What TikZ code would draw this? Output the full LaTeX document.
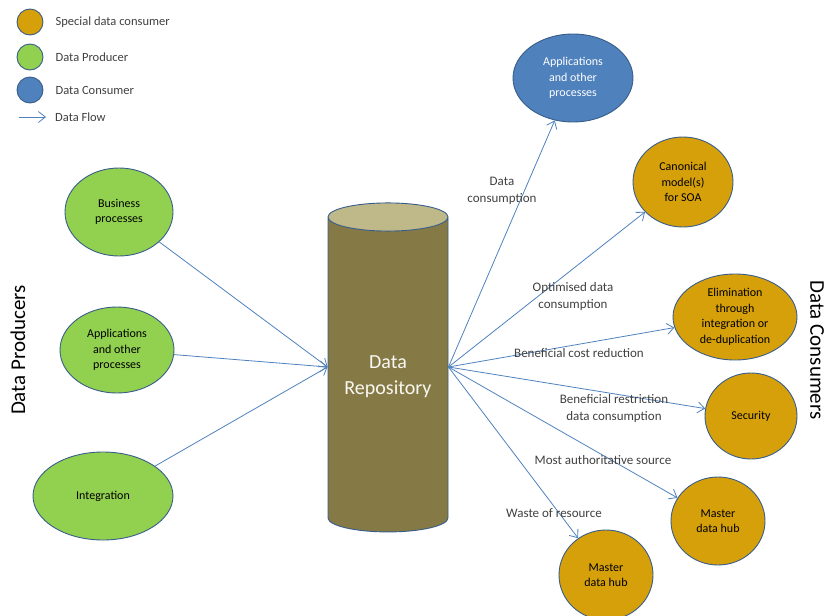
\documentclass[tikz,border=0pt]{standalone}
\usepackage{fontspec}
\setmainfont{Carlito}
\usetikzlibrary{shapes.geometric, arrows.meta, positioning}

\definecolor{rimblue}{RGB}{56,93,138}
\definecolor{flowblue}{RGB}{79,129,189}
\definecolor{prodgreen}{RGB}{146,208,80}
\definecolor{consblue}{RGB}{79,129,189}
\definecolor{specgold}{RGB}{214,160,10}
\definecolor{repobody}{RGB}{133,122,69}
\definecolor{repotop}{RGB}{191,185,138}
\definecolor{labelgrey}{RGB}{64,64,64}

\begin{document}
\begin{tikzpicture}[x=1pt, y=-1pt,
	  node distance=12pt,
	  producer/.style={ellipse, draw=rimblue, line width=0.9pt, fill=prodgreen, align=center, inner sep=0pt, font=\fontsize{12}{15.5}\selectfont},
	  consumer/.style={ellipse, draw=rimblue, line width=0.9pt, fill=consblue, text=white, align=center, inner sep=0pt, font=\fontsize{12}{15.5}\selectfont},
	  special/.style={ellipse, draw=rimblue, line width=0.9pt, fill=specgold, align=center, inner sep=0pt, font=\fontsize{12}{15.5}\selectfont},
	  legdot/.style={circle, draw=rimblue, line width=0.9pt, minimum size=26pt, inner sep=0pt},
	  legtext/.style={font=\fontsize{12.5}{14}\selectfont, text=labelgrey, inner sep=0pt},
	  flowtext/.style={font=\fontsize{13}{17}\selectfont, text=labelgrey, align=center, inner sep=0pt},
	  sidetext/.style={font=\fontsize{21}{24}\selectfont, inner sep=0pt},
	  flow/.style={draw=flowblue, line width=0.8pt, -{Straight Barb[length=7pt, width=11pt]}}
	]

	\useasboundingbox (0,0) rectangle (831,616);

	% legend
	\node (legspec) [legdot, fill=specgold] at (30,22) {};
	\node (legprod) [legdot, fill=prodgreen] at (30,57) {};
	\node (legcons) [legdot, fill=consblue] at (30,90) {};
	\coordinate (legflowa) at (19,117);
	\coordinate (legflowb) at (46,117);
	\node (legspectxt) [legtext, right=of legspec, anchor=west] {Special data consumer};
	\node (legprodtxt) [legtext, right=of legprod, anchor=west] {Data Producer};
	\node (legconstxt) [legtext, right=of legcons, anchor=west] {Data Consumer};
	\node (legflowtxt) [legtext, anchor=west] at (55,117) {Data Flow};
	\draw [flow] (legflowa) -- (legflowb);

	% repository
	\node (repo) [cylinder, shape border rotate=90, draw=rimblue, line width=0.9pt, aspect=0.3,
	  minimum width=120pt, minimum height=329pt, cylinder uses custom fill,
	  cylinder body fill=repobody, cylinder end fill=repotop,
	  text=white!90!repotop, align=center, font=\fontsize{20}{26}\selectfont] at (388,377) {Data\\Repository};
	\coordinate (repoin) at ([yshift=10pt]repo.west);
	\coordinate (repoout) at ([yshift=10pt]repo.east);

	% producers
	\node (bizproc) [producer, minimum width=108pt, minimum height=88pt] at (119,212) {Business\\processes};
	\node (appproc) [producer, minimum width=114pt, minimum height=86pt] at (117,350) {Applications\\and other\\processes};
	\node (integ) [producer, minimum width=140pt, minimum height=88pt] at (103,496) {Integration};

	% consumers
	\node (appcons) [consumer, minimum width=120pt, minimum height=88pt] at (573,78) {Applications\\and other\\processes};
	\node (canon) [special, minimum width=100pt, minimum height=90pt] at (683,182) {Canonical\\model(s)\\for SOA};
	\node (elim) [special, minimum width=124pt, minimum height=86pt] at (735,317) {Elimination\\through\\integration or\\de-duplication};
	\node (secur) [special, minimum width=92pt, minimum height=86pt] at (751,416) {Security};
	\node (mdhubb) [special, minimum width=94pt, minimum height=88pt] at (718,521) {Master\\data hub};
	\node (mdhuba) [special, minimum width=94pt, minimum height=90pt] at (606,575) {Master\\data hub};

	% side titles
	\node (prodtitle) [sidetext, rotate=90] at (18,350) {Data Producers};
	\node (constitle) [sidetext, rotate=-90] at (817,350) {Data Consumers};

	% flows in
	\draw [flow] (bizproc) -- (repoin);
	\draw [flow] (appproc) -- (repoin);
	\draw [flow] (integ) -- (repoin);

	% flows out
	\draw [flow] (repoout) -- (appcons);
	\draw [flow] (repoout) -- (canon);
	\draw [flow] (repoout) -- (elim);
	\draw [flow] (repoout) -- (secur);
	\draw [flow] (repoout) -- (mdhubb);
	\draw [flow] (repoout) -- (mdhuba);

	% flow labels
	\node (lblcons) [flowtext] at (502,191) {Data\\consumption};
	\node (lblopt) [flowtext] at (573,297) {Optimised data\\consumption};
	\node (lblcost) [flowtext] at (579,353) {Beneficial cost reduction};
	\node (lblrestr) [flowtext] at (614,409) {Beneficial restriction\\data consumption};
	\node (lblauth) [flowtext] at (603,460) {Most authoritative source};
	\node (lblwaste) [flowtext] at (554,513) {Waste of resource};

\end{tikzpicture}
\end{document}
